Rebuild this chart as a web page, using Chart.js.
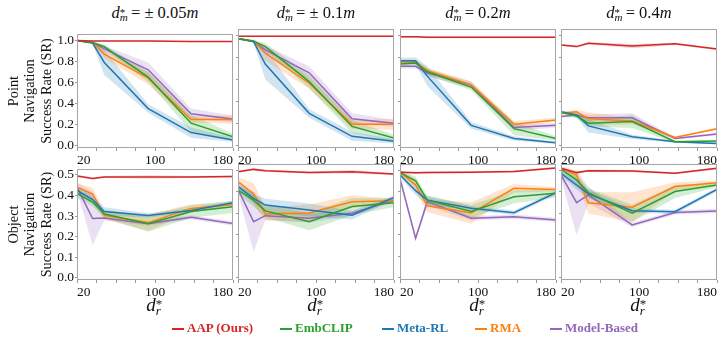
<!DOCTYPE html>
<html>
<head>
<meta charset="utf-8">
<script src="https://cdn.jsdelivr.net/npm/chart.js@4.4.1/dist/chart.umd.min.js"></script>
<style>
  body { margin: 0; background: #fff; }
  #wrap { position: relative; width: 723px; height: 340px; overflow: hidden;
          font-family: 'Liberation Serif', 'DejaVu Serif', serif; color: #111; }
  #wrap canvas { position: absolute; }
  .ttl { position: absolute; top: 5px; width: 156px; text-align: center;
         font-size: 16.5px; line-height: 16.5px; white-space: nowrap; }
  .xt { position: absolute; top: 295px; width: 156px; text-align: center;
        font-size: 19px; line-height: 19px; white-space: nowrap; }
  .ss { display: inline-block; position: relative; height: 0; width: 7px; }
  .ss span { position: absolute; left: 0; font-size: 11px; line-height: 11px; }
  .ss .u { top: -11px; font-style: normal; }
  .ss .l { top: -6px; font-style: italic; }
  .xt .ss { width: 8px; }
  .xt .ss span { font-size: 13px; line-height: 13px; }
  .xt .ss .u { top: -14px; }
  .xt .ss .l { top: -7px; }
  .leg { position: absolute; top: 320px; font-weight: bold; font-size: 13px;
         line-height: 15px; white-space: nowrap; }
  .leg i { display: inline-block; width: 12px; height: 1.5px; background: currentColor;
           vertical-align: middle; margin-right: 3px; }
</style>
</head>
<body>
<div id="wrap"></div>
<script>
// x positions of the d_r* settings and axis ticks
const xs = [20, 36, 48, 93, 137, 180];
const xTicks = [20, 40, 60, 80, 100, 120, 140, 160, 180];
const xLabels = [20, 100, 180];
const pointTicks = [0, 0.2, 0.4, 0.6, 0.8, 1.0];
const objectTicks = [0, 0.1, 0.2, 0.3, 0.4, 0.5];

const methods = ['AAP (Ours)', 'EmbCLIP', 'Meta-RL', 'RMA', 'Model-Based'];
const colors = ['#d62728', '#2ca02c', '#1f77b4', '#ff7f0e', '#9467bd'];
const dmTitles = ['± 0.05', '± 0.1', '0.2', '0.4'];

// Point navigation SR, one row per d_m* panel
const aapPoint = [
  [1.0, 0.995, 0.995, 0.995, 0.99, 0.99],
  [0.995, 0.995, 0.995, 0.995, 0.995, 0.995],
  [0.99, 0.99, 0.985, 0.985, 0.985, 0.985],
  [0.915, 0.90, 0.93, 0.905, 0.925, 0.878]
];
const clipPoint = [
  [1.0, 0.98, 0.94, 0.65, 0.21, 0.08],
  [0.975, 0.95, 0.90, 0.58, 0.17, 0.065],
  [0.74, 0.75, 0.67, 0.53, 0.15, 0.06],
  [0.30, 0.265, 0.20, 0.215, 0.03, 0.037]
];
const metaPoint = [
  [1.0, 0.975, 0.79, 0.35, 0.12, 0.05],
  [0.975, 0.945, 0.74, 0.29, 0.08, 0.035],
  [0.77, 0.77, 0.63, 0.18, 0.06, 0.02],
  [0.305, 0.275, 0.175, 0.075, 0.03, 0.015]
];
const rmaPoint = [
  [1.0, 0.98, 0.87, 0.64, 0.245, 0.245],
  [0.975, 0.95, 0.84, 0.565, 0.19, 0.19],
  [0.76, 0.76, 0.68, 0.55, 0.19, 0.23],
  [0.29, 0.305, 0.24, 0.22, 0.07, 0.15]
];
const mbPoint = [
  [1.0, 0.98, 0.92, 0.72, 0.30, 0.25],
  [0.97, 0.95, 0.87, 0.66, 0.24, 0.20],
  [0.72, 0.72, 0.66, 0.55, 0.16, 0.18],
  [0.26, 0.275, 0.25, 0.25, 0.06, 0.10]
];
// half-width of the shaded bands
const aapPointBand = [
  [0.005, 0.005, 0.005, 0.005, 0.005, 0.005],
  [0.005, 0.005, 0.005, 0.005, 0.005, 0.005],
  [0.008, 0.008, 0.008, 0.008, 0.008, 0.008],
  [0.01, 0.01, 0.01, 0.02, 0.01, 0.01]
];
const clipPointBand = [
  [0.005, 0.01, 0.02, 0.05, 0.08, 0.03],
  [0.005, 0.01, 0.03, 0.06, 0.06, 0.03],
  [0.02, 0.02, 0.03, 0.03, 0.06, 0.02],
  [0.01, 0.02, 0.03, 0.06, 0.01, 0.01]
];
const metaPointBand = [
  [0.005, 0.01, 0.12, 0.04, 0.05, 0.02],
  [0.005, 0.01, 0.14, 0.04, 0.04, 0.02],
  [0.03, 0.03, 0.09, 0.03, 0.02, 0.01],
  [0.01, 0.02, 0.06, 0.02, 0.01, 0.01]
];
const rmaPointBand = [
  [0.005, 0.01, 0.04, 0.06, 0.03, 0.04],
  [0.005, 0.01, 0.07, 0.05, 0.04, 0.05],
  [0.02, 0.02, 0.03, 0.03, 0.03, 0.02],
  [0.01, 0.02, 0.06, 0.03, 0.01, 0.01]
];
const mbPointBand = [
  [0.005, 0.01, 0.03, 0.07, 0.05, 0.03],
  [0.005, 0.01, 0.04, 0.06, 0.05, 0.03],
  [0.02, 0.02, 0.03, 0.03, 0.03, 0.02],
  [0.01, 0.02, 0.03, 0.04, 0.01, 0.01]
];

// Object navigation SR
const aapObject = [
  [0.495, 0.482, 0.49, 0.49, 0.49, 0.492],
  [0.492, 0.503, 0.497, 0.488, 0.492, 0.481],
  [0.49, 0.487, 0.488, 0.49, 0.493, 0.51],
  [0.508, 0.488, 0.497, 0.495, 0.485, 0.508]
];
const clipObject = [
  [0.41, 0.368, 0.31, 0.263, 0.322, 0.345],
  [0.407, 0.36, 0.31, 0.26, 0.33, 0.348],
  [0.488, 0.45, 0.36, 0.307, 0.376, 0.392],
  [0.503, 0.454, 0.395, 0.299, 0.40, 0.43]
];
const metaObject = [
  [0.425, 0.38, 0.322, 0.303, 0.327, 0.364],
  [0.423, 0.368, 0.337, 0.314, 0.29, 0.373],
  [0.477, 0.404, 0.36, 0.322, 0.302, 0.395],
  [0.485, 0.43, 0.389, 0.311, 0.306, 0.41]
];
const rmaObject = [
  [0.44, 0.407, 0.303, 0.268, 0.337, 0.356],
  [0.446, 0.39, 0.296, 0.30, 0.353, 0.357],
  [0.492, 0.43, 0.334, 0.30, 0.415, 0.41],
  [0.508, 0.477, 0.348, 0.327, 0.423, 0.441]
];
const mbObject = [
  [0.44, 0.288, 0.29, 0.263, 0.294, 0.263],
  [0.41, 0.26, 0.288, 0.276, 0.299, 0.36],
  [0.46, 0.183, 0.353, 0.276, 0.283, 0.268],
  [0.477, 0.348, 0.384, 0.245, 0.303, 0.31]
];
const aapObjectBand = [
  [0.005, 0.005, 0.005, 0.008, 0.005, 0.005],
  [0.005, 0.005, 0.005, 0.005, 0.008, 0.005],
  [0.005, 0.005, 0.005, 0.005, 0.005, 0.005],
  [0.005, 0.005, 0.005, 0.005, 0.005, 0.005]
];
const clipObjectBand = [
  [0.02, 0.02, 0.02, 0.04, 0.03, 0.03],
  [0.02, 0.03, 0.03, 0.04, 0.04, 0.02],
  [0.01, 0.02, 0.02, 0.03, 0.03, 0.02],
  [0.01, 0.02, 0.02, 0.04, 0.03, 0.01]
];
const metaObjectBand = [
  [0.02, 0.02, 0.02, 0.01, 0.01, 0.01],
  [0.02, 0.02, 0.03, 0.03, 0.02, 0.01],
  [0.01, 0.02, 0.02, 0.01, 0.01, 0.01],
  [0.01, 0.02, 0.02, 0.01, 0.01, 0.01]
];
const rmaObjectBand = [
  [0.02, 0.03, 0.02, 0.04, 0.02, 0.01],
  [0.02, 0.05, 0.03, 0.04, 0.03, 0.01],
  [0.01, 0.03, 0.03, 0.05, 0.02, 0.01],
  [0.01, 0.02, 0.05, 0.07, 0.02, 0.01]
];
const mbObjectBand = [
  [0.02, 0.13, 0.01, 0.01, 0.01, 0.01],
  [0.02, 0.14, 0.02, 0.02, 0.01, 0.01],
  [0.02, 0.01, 0.02, 0.01, 0.01, 0.01],
  [0.02, 0.15, 0.04, 0.01, 0.01, 0.01]
];

const rows = [
  { means: [aapPoint, clipPoint, metaPoint, rmaPoint, mbPoint],
    bands: [aapPointBand, clipPointBand, metaPointBand, rmaPointBand, mbPointBand],
    ticks: pointTicks, range: [-0.027, 1.061], top: 29, h: 119,
    title: ['Point', 'Navigation', 'Success Rate (SR)'] },
  { means: [aapObject, clipObject, metaObject, rmaObject, mbObject],
    bands: [aapObjectBand, clipObjectBand, metaObjectBand, rmaObjectBand, mbObjectBand],
    ticks: objectTicks, range: [-0.011, 0.528], top: 164, h: 116,
    title: ['Object', 'Navigation', 'Success Rate (SR)'] }
];
const colLeft = [77, 238, 400, 561];
const panelW = 156;
const FONT = 'Liberation Serif';

function alpha(hex, a) {
  const n = parseInt(hex.slice(1), 16);
  return `rgba(${n >> 16},${(n >> 8) & 255},${n & 255},${a})`;
}

const frame = {
  id: 'frame',
  afterDatasetsDraw(chart) {
    const { ctx, chartArea: a } = chart;
    ctx.save();
    ctx.strokeStyle = '#a6a6a6';
    ctx.lineWidth = 1;
    ctx.strokeRect(Math.round(a.left) + 0.5, Math.round(a.top) + 0.5,
                   Math.round(a.width) - 1, Math.round(a.height) - 1);
    ctx.restore();
  }
};

const wrap = document.getElementById('wrap');

rows.forEach((row, r) => {
  colLeft.forEach((left, c) => {
    const yW = c === 0 ? 77 : 5;
    const canvas = document.createElement('canvas');
    canvas.width = yW + panelW + 8;
    canvas.height = 4 + row.h + 22;
    canvas.style.left = (left - yW) + 'px';
    canvas.style.top = (row.top - 4) + 'px';
    wrap.appendChild(canvas);

    const sets = [];
    row.means.forEach((m, k) => {
      const mean = m[c], band = row.bands[k][c];
      sets.push({ data: xs.map((x, i) => ({ x, y: mean[i] - band[i] })),
                  borderWidth: 0, pointRadius: 0, fill: false });
      sets.push({ data: xs.map((x, i) => ({ x, y: mean[i] + band[i] })),
                  borderWidth: 0, pointRadius: 0, fill: '-1',
                  backgroundColor: alpha(colors[k], 0.2) });
    });
    row.means.forEach((m, k) => {
      sets.push({ label: methods[k], data: xs.map((x, i) => ({ x, y: m[c][i] })),
                  borderColor: colors[k], borderWidth: 1.5, pointRadius: 0, fill: false });
    });

    new Chart(canvas, {
      type: 'line',
      data: { datasets: sets },
      plugins: [frame],
      options: {
        responsive: false,
        animation: false,
        devicePixelRatio: 1,
        layout: { padding: { top: 4, right: 8, left: 0, bottom: 0 } },
        plugins: {
          legend: { display: false },
          tooltip: { enabled: false },
          filler: { drawTime: 'beforeDatasetsDraw' }
        },
        scales: {
          x: {
            type: 'linear', min: 20, max: 180,
            afterBuildTicks: s => { s.ticks = xTicks.map(v => ({ value: v })); },
            afterFit: s => { s.height = 22; },
            border: { display: false },
            grid: { drawOnChartArea: false, drawTicks: true, tickLength: 3, color: '#999' },
            ticks: { autoSkip: false, maxRotation: 0, padding: 1, color: '#111', align: 'inner',
                     font: { family: FONT, size: 13.5 },
                     callback: v => xLabels.includes(v) ? String(v) : '' }
          },
          y: {
            min: row.range[0], max: row.range[1],
            afterBuildTicks: s => { s.ticks = row.ticks.map(v => ({ value: v })); },
            afterFit: s => { s.width = yW; },
            border: { display: false },
            grid: { drawOnChartArea: false, drawTicks: true, tickLength: 2, color: '#999' },
            ticks: { display: c === 0, padding: 1, color: '#111',
                     font: { family: FONT, size: 13.5 },
                     callback: v => v.toFixed(1) },
            title: { display: c === 0, text: row.title, color: '#111',
                     font: { family: FONT, size: 14.3, lineHeight: 1.154 },
                     padding: { top: 5.5, bottom: 0 } }
          }
        }
      }
    });
  });
});

// panel titles, x-axis titles and legend as text
colLeft.forEach((left, c) => {
  const t = document.createElement('div');
  t.className = 'ttl';
  t.style.left = left + 'px';
  t.innerHTML = `<i>d</i><span class="ss"><span class="u">*</span><span class="l">m</span></span> = ${dmTitles[c]}<i>m</i>`;
  wrap.appendChild(t);
  const xt = document.createElement('div');
  xt.className = 'xt';
  xt.style.left = left + 'px';
  xt.innerHTML = `<i>d</i><span class="ss"><span class="u">*</span><span class="l">r</span></span>`;
  wrap.appendChild(xt);
});

const legendLeft = [172, 280, 382, 475, 550];
methods.forEach((m, k) => {
  const d = document.createElement('div');
  d.className = 'leg';
  d.style.left = legendLeft[k] + 'px';
  d.style.color = colors[k];
  d.innerHTML = `<i></i>${m}`;
  wrap.appendChild(d);
});
</script>
</body>
</html>
